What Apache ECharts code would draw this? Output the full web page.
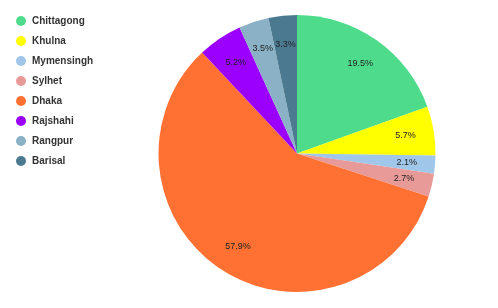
<!DOCTYPE html>
<html><head><meta charset="utf-8">
<script src="https://cdn.jsdelivr.net/npm/echarts@6/dist/echarts.min.js"></script>
<style>html,body{margin:0;padding:0;background:#fff}#c{width:498px;height:308px}</style>
</head><body><div id="c"></div>
<script>
const categories = ['Chittagong','Khulna','Mymensingh','Sylhet','Dhaka','Rajshahi','Rangpur','Barisal'];
const values = [19.5, 5.7, 2.1, 2.7, 57.9, 5.2, 3.5, 3.3];
const colors = ['#4edc8c','#ffff00','#a0c6ea','#e89a98','#ff7133','#9b00ff','#8ab1c5','#4b7a90'];

const data = categories.map((n,i)=>({name:n, value:values[i], itemStyle:{color:colors[i]}}));
const chart = echarts.init(document.getElementById('c'), null, {renderer:'canvas'});
chart.setOption({
  animation:false,
  legend:{
    orient:'vertical', left:11, top:11, itemWidth:12, itemHeight:10, itemGap:10,
    icon:'circle',
    textStyle:{fontFamily:'Liberation Sans, Arial, sans-serif', fontSize:10, fontWeight:'bold', color:'#333'},
    data:categories
  },
  series:[
    {type:'pie', center:[297,153.5], radius:[0,138.5], startAngle:90, clockwise:true,
     silent:true, label:{show:false}, labelLine:{show:false}, data:data},
    {type:'pie', center:[297,153.5], radius:[75.5,138.5], startAngle:90, clockwise:true,
     silent:true, legendHoverLink:false,
     itemStyle:{color:'rgba(0,0,0,0)', borderWidth:0},
     label:{show:true, position:'inside', formatter:p=>p.value+'%',
       fontFamily:'Liberation Sans, Arial, sans-serif', fontSize:9, color:'#222'},
     labelLine:{show:false},
     data:categories.map((n,i)=>({name:n+' ', value:values[i]}))}
  ]
});
</script></body></html>
